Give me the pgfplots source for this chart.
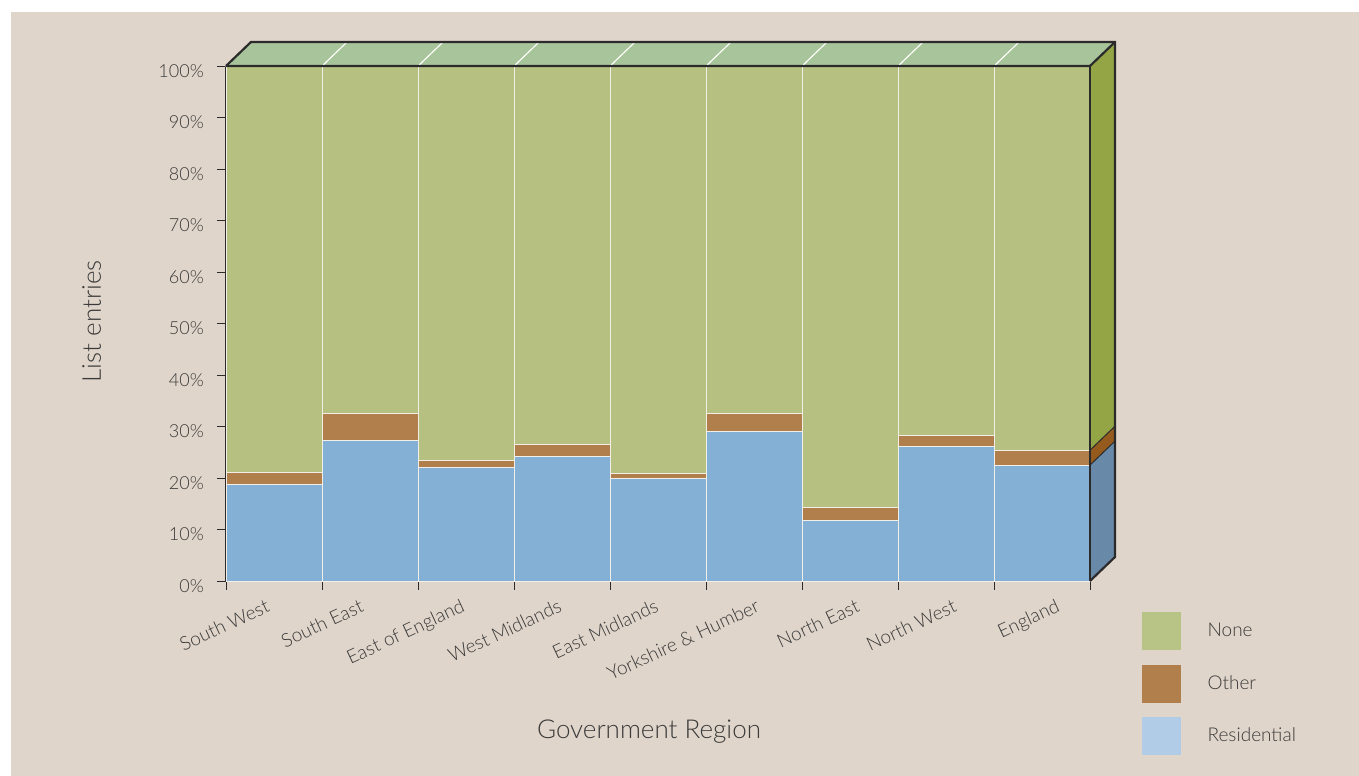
\documentclass[border=0pt]{standalone}
\usepackage{fontspec}
\setmainfont{Lato Light}
\usepackage{pgfplots}
\pgfplotsset{compat=1.18}
\definecolor{bg}{HTML}{E0D5CA}
\definecolor{noneC}{HTML}{B6C080}
\definecolor{otherC}{HTML}{B07F4B}
\definecolor{resC}{HTML}{85B0D6}
\definecolor{topC}{HTML}{A8C49A}
\definecolor{sideN}{HTML}{93A544}
\definecolor{sideO}{HTML}{955A1E}
\definecolor{sideR}{HTML}{6889A8}
\definecolor{legN}{HTML}{B8C486}
\definecolor{legO}{HTML}{B07F4B}
\definecolor{legR}{HTML}{B0CCE6}
\definecolor{axisC}{HTML}{2B2B2B}
\definecolor{textC}{HTML}{3A3A3A}
\definecolor{edgeC}{HTML}{F2EEE8}
\begin{document}
\begin{tikzpicture}
\useasboundingbox (0bp,0bp) rectangle (1359bp,776bp);
\fill[white] (0bp,0bp) rectangle (1359bp,776bp);
\fill[bg] (11bp,0bp) rectangle (1359bp,764bp);
\begin{axis}[
  at={(226bp,195bp)}, anchor=south west,
  scale only axis, width=864bp, height=515bp,
  xmin=0, xmax=9, ymin=0, ymax=100,
  enlargelimits=false, clip=false,
  axis lines*=left,
  axis line style={draw=axisC, line width=2bp},
  ybar stacked, bar width=1,
  tick align=outside,
  major tick length=9bp,
  tick style={draw=axisC, line width=0.8bp},
  xtick={0,1,2,3,4,5,6,7,8,9},
  xticklabels={},
  extra x ticks={0.323,1.302,2.354,3.365,4.375,5.427,6.469,7.479,8.552},
  extra x tick labels={South West,South East,East of England,West Midlands,East Midlands,Yorkshire \& Humber,North East,North West,England},
  extra x tick style={major tick length=0pt},
  xticklabel style={rotate=25, anchor=north east, inner sep=0pt, yshift=-19bp, font=\fontsize{19bp}{22bp}\selectfont, text=textC},
  ytick={0,10,20,30,40,50,60,70,80,90,100},
  yticklabels={0\%,10\%,20\%,30\%,40\%,50\%,60\%,70\%,80\%,90\%,100\%},
  yticklabel style={anchor=east, inner sep=0pt, xshift=-13bp, yshift=-5bp, font=\fontsize{18bp}{20bp}\selectfont, text=textC},
  xlabel={Government Region},
  xlabel style={at={(axis description cs:0.4896,-0.3049)}, anchor=base, font=\fontsize{26bp}{30bp}\selectfont, text=textC},
  ylabel={List entries},
  ylabel style={at={(axis description cs:-0.1447,0.504)}, anchor=base, font=\fontsize{26bp}{30bp}\selectfont, text=textC},
  legend style={at={(1.0602,-0.0602)}, anchor=north west, draw=none, fill=none, inner sep=0pt, row sep=15bp,
    font=\fontsize{19bp}{22bp}\selectfont, text=textC, nodes={inner sep=0pt},
    /tikz/column 1/.style={column sep=27bp}},
  legend cell align=left,
]
% Residential
\addplot[fill=resC, draw=edgeC, line width=0.8bp, forget plot] coordinates {
 (0.5,18.7) (1.5,27.3) (2.5,22.1) (3.5,24.2) (4.5,19.9) (5.5,29.1) (6.5,11.8) (7.5,26.2) (8.5,22.5)};
% Other
\addplot[fill=otherC, draw=edgeC, line width=0.8bp, forget plot] coordinates {
 (0.5,2.4) (1.5,5.3) (2.5,1.3) (3.5,2.3) (4.5,0.9) (5.5,3.5) (6.5,2.4) (7.5,2.1) (8.5,2.9)};
% None
\addplot[fill=noneC, draw=edgeC, line width=0.8bp, forget plot] coordinates {
 (0.5,78.9) (1.5,67.4) (2.5,76.6) (3.5,73.5) (4.5,79.2) (5.5,67.4) (6.5,85.8) (7.5,71.7) (8.5,74.6)};
% 3D top face, one parallelogram per bar
\filldraw[fill=topC, draw=white, line width=1bp] (axis cs:0,100) -- ([shift={(25bp,24bp)}]axis cs:0,100) -- ([shift={(25bp,24bp)}]axis cs:1,100) -- (axis cs:1,100) -- cycle;
\filldraw[fill=topC, draw=white, line width=1bp] (axis cs:1,100) -- ([shift={(25bp,24bp)}]axis cs:1,100) -- ([shift={(25bp,24bp)}]axis cs:2,100) -- (axis cs:2,100) -- cycle;
\filldraw[fill=topC, draw=white, line width=1bp] (axis cs:2,100) -- ([shift={(25bp,24bp)}]axis cs:2,100) -- ([shift={(25bp,24bp)}]axis cs:3,100) -- (axis cs:3,100) -- cycle;
\filldraw[fill=topC, draw=white, line width=1bp] (axis cs:3,100) -- ([shift={(25bp,24bp)}]axis cs:3,100) -- ([shift={(25bp,24bp)}]axis cs:4,100) -- (axis cs:4,100) -- cycle;
\filldraw[fill=topC, draw=white, line width=1bp] (axis cs:4,100) -- ([shift={(25bp,24bp)}]axis cs:4,100) -- ([shift={(25bp,24bp)}]axis cs:5,100) -- (axis cs:5,100) -- cycle;
\filldraw[fill=topC, draw=white, line width=1bp] (axis cs:5,100) -- ([shift={(25bp,24bp)}]axis cs:5,100) -- ([shift={(25bp,24bp)}]axis cs:6,100) -- (axis cs:6,100) -- cycle;
\filldraw[fill=topC, draw=white, line width=1bp] (axis cs:6,100) -- ([shift={(25bp,24bp)}]axis cs:6,100) -- ([shift={(25bp,24bp)}]axis cs:7,100) -- (axis cs:7,100) -- cycle;
\filldraw[fill=topC, draw=white, line width=1bp] (axis cs:7,100) -- ([shift={(25bp,24bp)}]axis cs:7,100) -- ([shift={(25bp,24bp)}]axis cs:8,100) -- (axis cs:8,100) -- cycle;
\filldraw[fill=topC, draw=white, line width=1bp] (axis cs:8,100) -- ([shift={(25bp,24bp)}]axis cs:8,100) -- ([shift={(25bp,24bp)}]axis cs:9,100) -- (axis cs:9,100) -- cycle;
% 3D side face (England)
\fill[sideR] (axis cs:9,0) -- ([shift={(25bp,24bp)}]axis cs:9,0) -- ([shift={(25bp,24bp)}]axis cs:9,22.5) -- (axis cs:9,22.5) -- cycle;
\fill[sideO] (axis cs:9,22.5) -- ([shift={(25bp,24bp)}]axis cs:9,22.5) -- ([shift={(25bp,24bp)}]axis cs:9,25.4) -- (axis cs:9,25.4) -- cycle;
\fill[sideN] (axis cs:9,25.4) -- ([shift={(25bp,24bp)}]axis cs:9,25.4) -- ([shift={(25bp,24bp)}]axis cs:9,100) -- (axis cs:9,100) -- cycle;
\coordinate (PA) at (axis cs:0,100);
\coordinate (PB) at (axis cs:9,100);
\coordinate (PC) at (axis cs:9,0);
\coordinate (PR) at (axis cs:9,22.5);
\coordinate (PO) at (axis cs:9,25.4);
% legend
\addlegendimage{legend image code/.code={\fill[legN] (0bp,-18.5bp) rectangle (38bp,18.5bp);}}
\addlegendentry{None}
\addlegendimage{legend image code/.code={\fill[legO] (0bp,-18.5bp) rectangle (38bp,18.5bp);}}
\addlegendentry{Other}
\addlegendimage{legend image code/.code={\fill[legR] (0bp,-18.5bp) rectangle (38bp,18.5bp);}}
\addlegendentry{Residential}
\end{axis}
% box outlines
\draw[axisC, line width=1bp] (PR) -- ++(25bp,24bp);
\draw[axisC, line width=1bp] (PO) -- ++(25bp,24bp);
\draw[axisC, line width=1.2bp] (PC) -- (PB);
\draw[axisC, line width=2.2bp, line join=miter] (PA) -- ++(25bp,24bp) -- ([shift={(25bp,24bp)}]PB) -- ([shift={(25bp,24bp)}]PC) -- (PC);
\draw[axisC, line width=2.2bp, line join=miter] (PA) -- (PB) -- ++(25bp,24bp);
\end{tikzpicture}
\end{document}
